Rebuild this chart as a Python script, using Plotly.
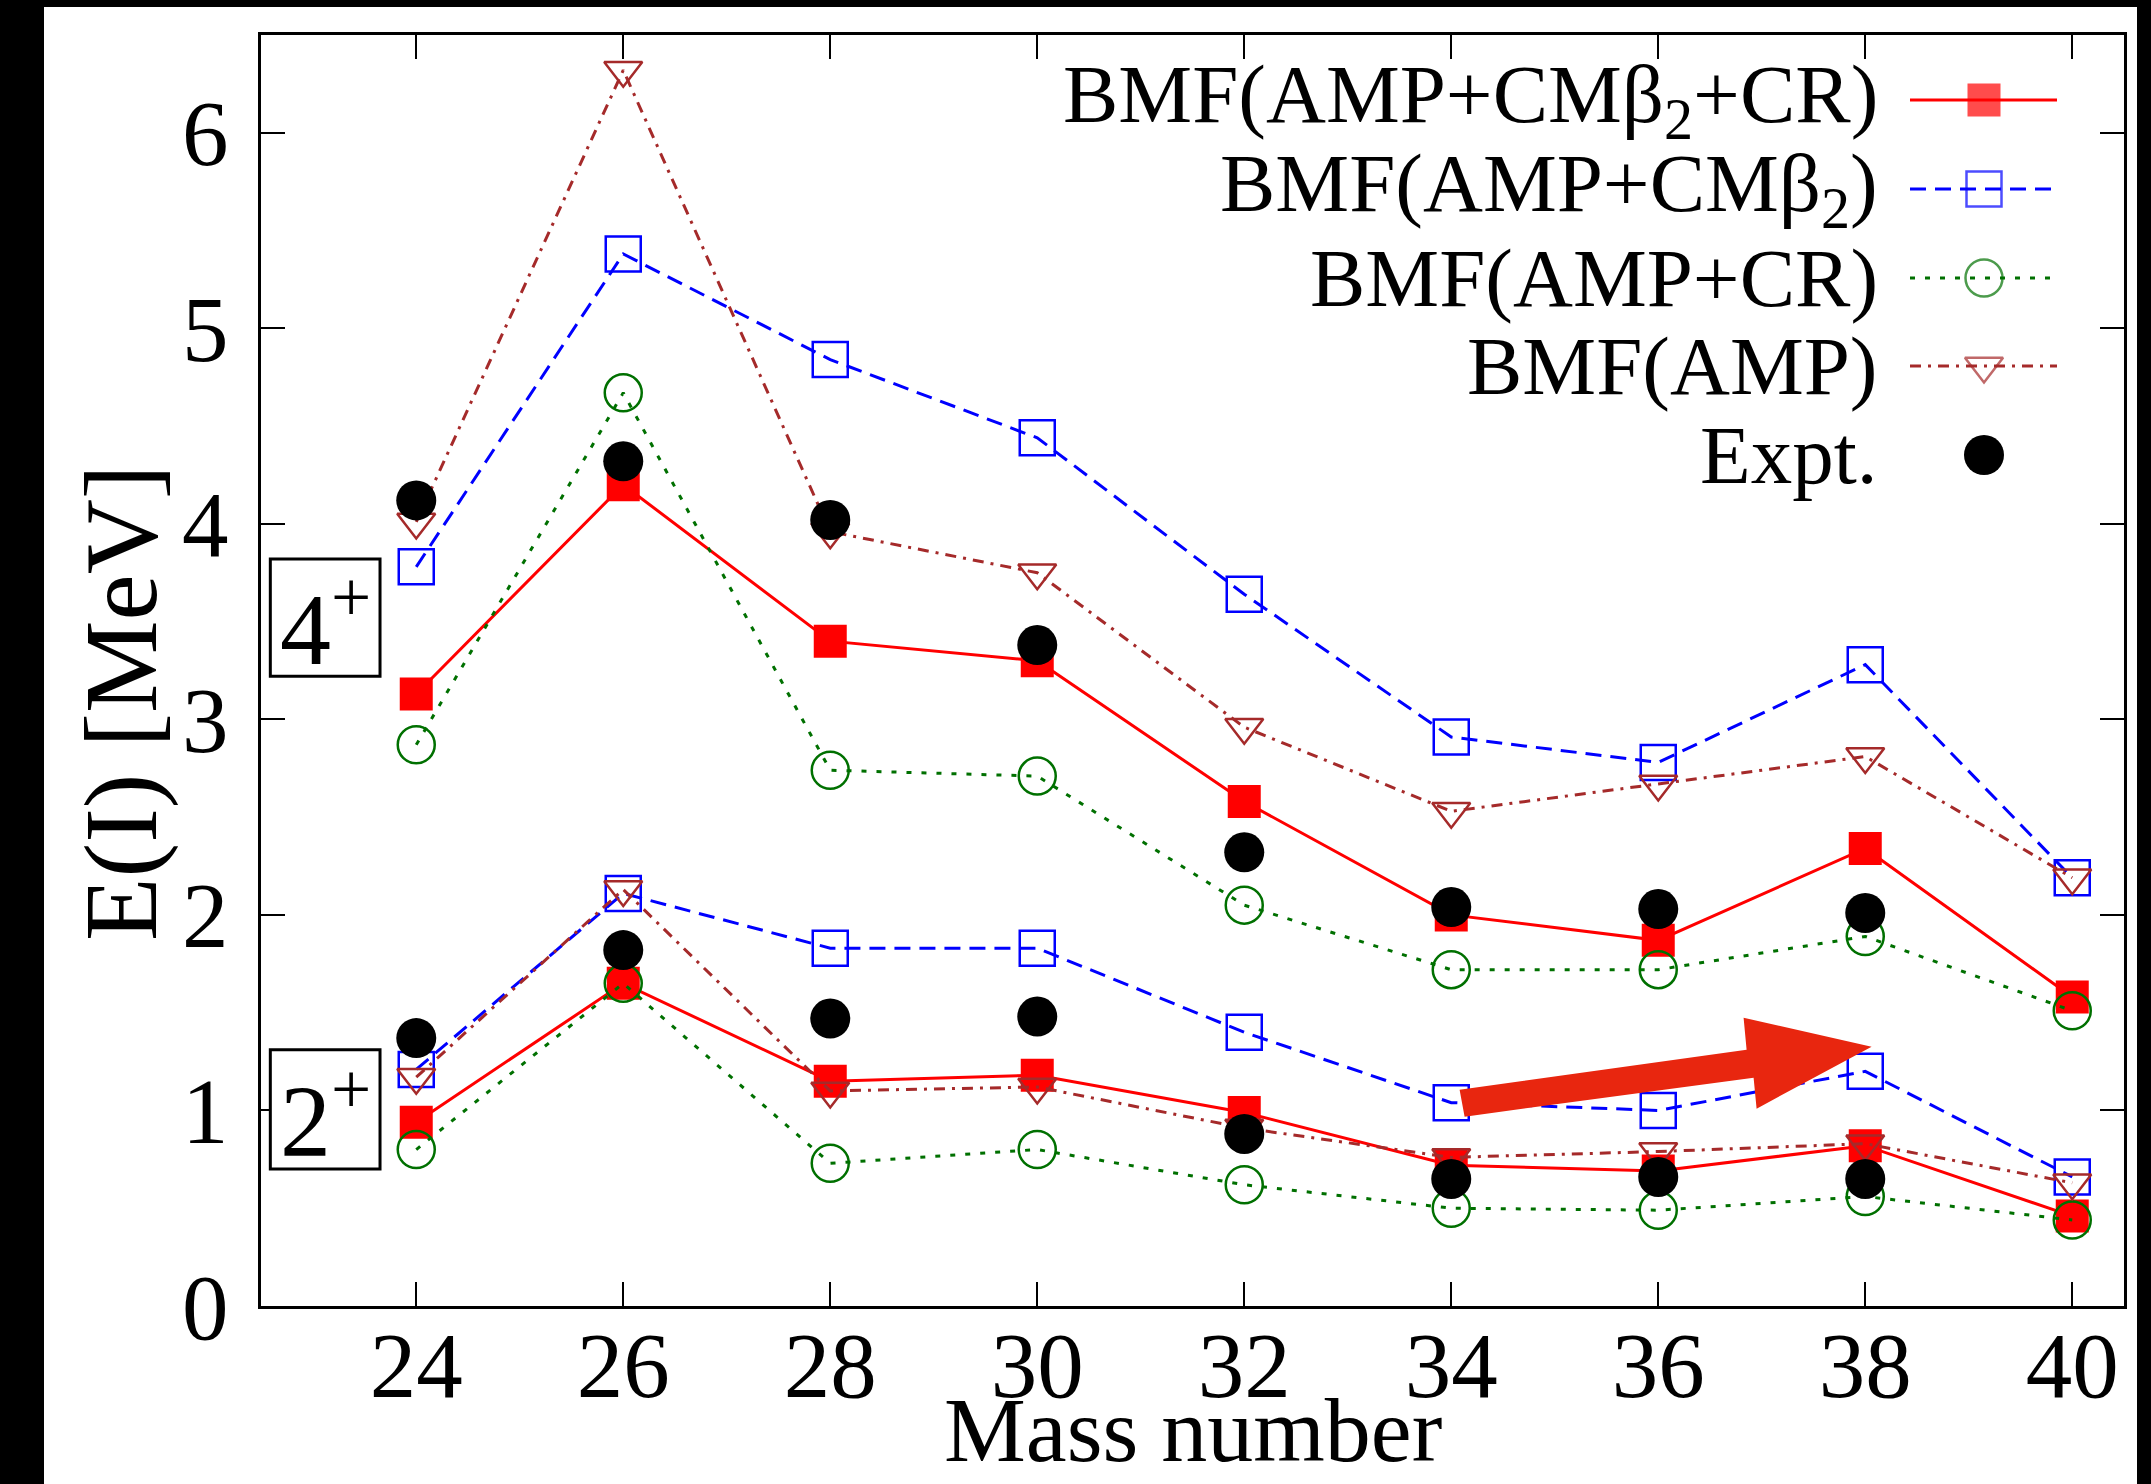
import plotly.graph_objects as go

# ---------------- data ----------------
mass = [24, 26, 28, 30, 32, 34, 36, 38, 40]
mass_expt = [24, 26, 28, 30, 32, 34, 36, 38]

# 4+ states
e4_full = [3.13, 4.20, 3.40, 3.30, 2.58, 2.00, 1.87, 2.34, 1.58]      # BMF(AMP+CMb2+CR)
e4_cm = [3.78, 5.38, 4.84, 4.44, 3.64, 2.91, 2.78, 3.28, 2.19]        # BMF(AMP+CMb2)
e4_cr = [2.87, 4.67, 2.74, 2.71, 2.05, 1.72, 1.72, 1.89, 1.51]        # BMF(AMP+CR)
e4_amp = [4.01, 6.32, 3.96, 3.75, 2.96, 2.53, 2.67, 2.81, 2.19]       # BMF(AMP)
e4_expt = [4.12, 4.32, 4.02, 3.38, 2.32, 2.04, 2.03, 2.01]            # Expt.

# 2+ states
e2_full = [0.94, 1.65, 1.15, 1.18, 0.99, 0.72, 0.69, 0.82, 0.46]
e2_cm = [1.21, 2.11, 1.83, 1.83, 1.40, 1.04, 1.00, 1.20, 0.66]
e2_cr = [0.80, 1.65, 0.73, 0.80, 0.62, 0.50, 0.49, 0.56, 0.44]
e2_amp = [1.17, 2.13, 1.10, 1.12, 0.91, 0.76, 0.79, 0.83, 0.63]
e2_expt = [1.37, 1.82, 1.47, 1.48, 0.88, 0.65, 0.66, 0.65]

series_names = ["BMF(AMP+CMβ<sub>2</sub>+CR)", "BMF(AMP+CMβ<sub>2</sub>)",
                "BMF(AMP+CR)", "BMF(AMP)", "Expt."]
x_ticks = [24, 26, 28, 30, 32, 34, 36, 38, 40]
y_ticks = [0, 1, 2, 3, 4, 5, 6]
x_title = "Mass number"
y_title = "E(I) [MeV]"

# ---------------- styles ----------------
FONT = "Liberation Serif"
RED, BLUE, GREEN, BROWN = "#ff0000", "#0000ff", "#007000", "#a52a2a"
styles = [
    dict(color=RED, dash="solid", symbol="square", size=33, mline=0),
    dict(color=BLUE, dash="16px,9px", symbol="square-open", size=35, mline=2.5),
    dict(color=GREEN, dash="5px,10px", symbol="circle-open", size=37, mline=2.5),
    dict(color=BROWN, dash="11px,7px,3px,7px", symbol="triangle-down-open", size=33, mline=2.5),
]

W, H = 2151, 1484
ML, MR, MT, MB = 261, 27, 35, 178
PW, PH = W - ML - MR, H - MT - MB


def px2paper_x(px):
    return (px - ML) / PW


def px2paper_y(py):
    return (H - MB - py) / PH


fig = go.Figure()

model_sets = [(e4_full, e2_full), (e4_cm, e2_cm), (e4_cr, e2_cr), (e4_amp, e2_amp)]
for (v4, v2), st, name in zip(model_sets, styles, series_names[:4]):
    for vals in (v4, v2):
        fig.add_trace(go.Scatter(
            x=mass, y=vals, mode="lines+markers", name=name, showlegend=False,
            line=dict(color=st["color"], width=3, dash=st["dash"]),
            marker=dict(symbol=st["symbol"], size=st["size"], color=st["color"],
                        line=dict(color=st["color"], width=st["mline"])),
        ))

for vals in (e4_expt, e2_expt):
    fig.add_trace(go.Scatter(
        x=mass_expt, y=vals, mode="markers", name="Expt.", showlegend=False,
        marker=dict(symbol="circle", size=40, color="black"),
    ))

# ---------------- manual gnuplot-style key ----------------
key_rows_px = [100, 189, 278, 366, 455]
key_line = (px2paper_x(1910), px2paper_x(2057))
key_mid = px2paper_x(1984)
key_text_x = px2paper_x(1880)
for i, name in enumerate(series_names):
    yk = px2paper_y(key_rows_px[i])
    if i < 4:
        st = styles[i]
        fig.add_trace(go.Scatter(
            x=[key_line[0], key_mid, key_line[1]], y=[yk, yk, yk],
            xaxis="x2", yaxis="y2", mode="lines+markers", showlegend=False, hoverinfo="skip",
            line=dict(color=st["color"], width=3, dash=st["dash"]),
            marker=dict(symbol=st["symbol"], size=[0, st["size"], 0], color=st["color"],
                        line=dict(color=st["color"], width=st["mline"])),
        ))
    else:
        fig.add_trace(go.Scatter(
            x=[key_mid], y=[yk], xaxis="x2", yaxis="y2", mode="markers",
            showlegend=False, hoverinfo="skip",
            marker=dict(symbol="circle", size=40, color="black"),
        ))
    fig.add_annotation(xref="paper", yref="paper", x=key_text_x, y=yk,
                       xanchor="right", yanchor="middle", text=name, showarrow=False,
                       font=dict(family=FONT, size=83, color="black"))

# ---------------- state labels ----------------
state_boxes = [("4<sup>+</sup>", 22.59, 23.65, 3.22, 3.82),
               ("2<sup>+</sup>", 22.59, 23.65, 0.70, 1.31)]
shapes = []
for label, bx0, bx1, by0, by1 in state_boxes:
    shapes.append(dict(type="rect", xref="x", yref="y", x0=bx0, x1=bx1, y0=by0, y1=by1,
                       line=dict(color="black", width=3), fillcolor="white", layer="above"))
    fig.add_annotation(xref="x", yref="y", x=(bx0 + bx1) / 2, y=(by0 + by1) / 2,
                       text=label, showarrow=False, xanchor="center", yanchor="middle",
                       yshift=-4, font=dict(family=FONT, size=102, color="black"))

# ---------------- axis titles ----------------
fig.add_annotation(xref="paper", yref="paper", x=px2paper_x(1193), y=px2paper_y(1430),
                   text=x_title, showarrow=False, xanchor="center", yanchor="middle",
                   font=dict(family=FONT, size=92, color="black"))
fig.add_annotation(xref="paper", yref="paper", x=px2paper_x(121), y=px2paper_y(703),
                   text=y_title, showarrow=False, xanchor="center", yanchor="middle",
                   textangle=-90, font=dict(family=FONT, size=104, color="black"))

# ---------------- red arrow ----------------
ARROW_ANCHOR = (34.1, 1.04)
arrow_path = "M -2,13 L 285,53 L 282,85 L 410,56 L 295,-6 L 292,25 L 3,-14 Z"
shapes.append(dict(type="path", xref="x", yref="y", xsizemode="pixel", ysizemode="pixel",
                   xanchor=ARROW_ANCHOR[0], yanchor=ARROW_ANCHOR[1], path=arrow_path,
                   fillcolor="#e8260f", line=dict(width=0), layer="above"))

# ---------------- black frame bands of the picture ----------------
shapes += [
    dict(type="rect", xref="paper", yref="paper", x0=px2paper_x(-5), x1=px2paper_x(44),
         y0=px2paper_y(H + 5), y1=px2paper_y(-5), fillcolor="black", line=dict(width=0), layer="above"),
    dict(type="rect", xref="paper", yref="paper", x0=px2paper_x(-5), x1=px2paper_x(W + 5),
         y0=px2paper_y(7), y1=px2paper_y(-5), fillcolor="black", line=dict(width=0), layer="above"),
    dict(type="rect", xref="paper", yref="paper", x0=px2paper_x(2137), x1=px2paper_x(W + 5),
         y0=px2paper_y(H + 5), y1=px2paper_y(-5), fillcolor="black", line=dict(width=0), layer="above"),
]

axis_common = dict(showline=True, linecolor="black", linewidth=3, mirror="allticks",
                   ticks="inside", ticklen=24, tickwidth=2, tickcolor="black",
                   showgrid=False, zeroline=False,
                   tickfont=dict(family=FONT, size=93, color="black"))

fig.update_layout(
    width=W, height=H, margin=dict(l=ML, r=MR, t=MT, b=MB, autoexpand=False),
    paper_bgcolor="white", plot_bgcolor="white", showlegend=False,
    shapes=shapes,
    xaxis=dict(range=[22.5, 40.5], tickvals=x_ticks, ticklabelstandoff=-24, **axis_common),
    yaxis=dict(range=[0, 6.5], tickvals=y_ticks, ticklabelstandoff=11, **axis_common),
    xaxis2=dict(overlaying="x", range=[0, 1], visible=False),
    yaxis2=dict(overlaying="y", range=[0, 1], visible=False),
)

fig.write_html("out.html")
